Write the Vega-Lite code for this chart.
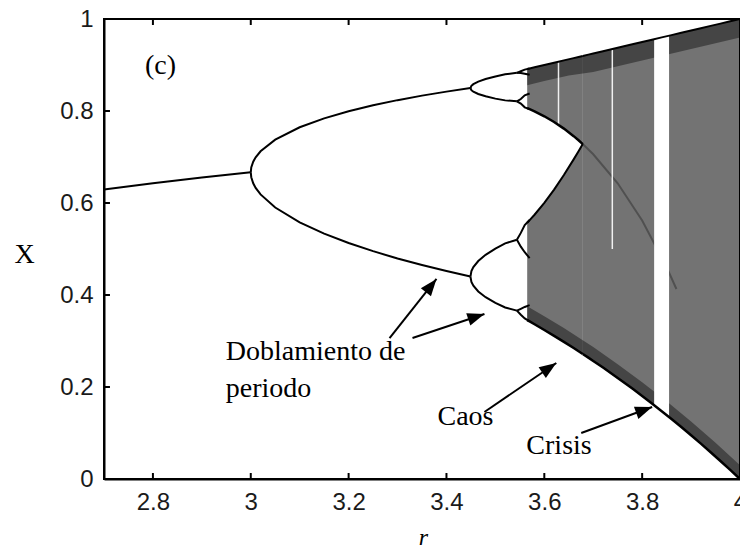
{
  "$schema": "https://vega.github.io/schema/vega-lite/v6.json",
  "width": 636,
  "height": 460,
  "autosize": {"type": "none"},
  "padding": {"left": 104, "top": 19, "right": 0, "bottom": 71},
  "background": "white",
  "config": {
    "view": {"stroke": "black", "strokeWidth": 2},
    "axis": {
      "domainColor": "black",
      "domainWidth": 2,
      "ticks": false,
      "grid": false,
      "labelFont": "Liberation Sans",
      "labelFontSize": 24,
      "labelColor": "#1a1a1a",
      "titleFont": "Liberation Serif",
      "titleFontWeight": "normal",
      "titleColor": "black"
    }
  },
  "resolve": {"axis": {"x": "independent", "y": "independent"}},
  "datasets": {
    "bands": [
      {"band": "up", "r": 3.565, "lo": 0.8062, "hi": 0.8913},
      {"band": "up", "r": 3.57, "lo": 0.8039, "hi": 0.8925},
      {"band": "up", "r": 3.58, "lo": 0.7992, "hi": 0.895},
      {"band": "up", "r": 3.6, "lo": 0.7885, "hi": 0.9},
      {"band": "up", "r": 3.62, "lo": 0.776, "hi": 0.905},
      {"band": "up", "r": 3.64, "lo": 0.7617, "hi": 0.91},
      {"band": "up", "r": 3.66, "lo": 0.7453, "hi": 0.915},
      {"band": "up", "r": 3.67, "lo": 0.7363, "hi": 0.9175},
      {"band": "up", "r": 3.6786, "lo": 0.7281, "hi": 0.9197},
      {"band": "low", "r": 3.565, "lo": 0.3455, "hi": 0.5571},
      {"band": "low", "r": 3.57, "lo": 0.3425, "hi": 0.5628},
      {"band": "low", "r": 3.58, "lo": 0.3364, "hi": 0.5745},
      {"band": "low", "r": 3.6, "lo": 0.324, "hi": 0.6004},
      {"band": "low", "r": 3.62, "lo": 0.3112, "hi": 0.6292},
      {"band": "low", "r": 3.64, "lo": 0.2981, "hi": 0.6608},
      {"band": "low", "r": 3.66, "lo": 0.2847, "hi": 0.6948},
      {"band": "low", "r": 3.67, "lo": 0.2778, "hi": 0.7126},
      {"band": "low", "r": 3.6786, "lo": 0.2718, "hi": 0.7282},
      {"band": "full", "r": 3.6786, "lo": 0.2718, "hi": 0.9197},
      {"band": "full", "r": 3.69, "lo": 0.2638, "hi": 0.9225},
      {"band": "full", "r": 3.7, "lo": 0.2567, "hi": 0.925},
      {"band": "full", "r": 3.72, "lo": 0.2422, "hi": 0.93},
      {"band": "full", "r": 3.75, "lo": 0.2197, "hi": 0.9375},
      {"band": "full", "r": 3.78, "lo": 0.1965, "hi": 0.945},
      {"band": "full", "r": 3.8, "lo": 0.1805, "hi": 0.95},
      {"band": "full", "r": 3.82, "lo": 0.1642, "hi": 0.955},
      {"band": "full", "r": 3.84, "lo": 0.1475, "hi": 0.96},
      {"band": "full", "r": 3.86, "lo": 0.1304, "hi": 0.965},
      {"band": "full", "r": 3.88, "lo": 0.1129, "hi": 0.97},
      {"band": "full", "r": 3.9, "lo": 0.0951, "hi": 0.975},
      {"band": "full", "r": 3.92, "lo": 0.0768, "hi": 0.98},
      {"band": "full", "r": 3.94, "lo": 0.0582, "hi": 0.985},
      {"band": "full", "r": 3.96, "lo": 0.0392, "hi": 0.99},
      {"band": "full", "r": 3.98, "lo": 0.0198, "hi": 0.995},
      {"band": "full", "r": 4.0, "lo": 0.0, "hi": 1.0}
    ],
    "dense": [
      {"edge": "top", "r": 3.565, "lo": 0.856, "hi": 0.8913},
      {"edge": "top", "r": 3.6, "lo": 0.865, "hi": 0.9},
      {"edge": "top", "r": 3.65, "lo": 0.877, "hi": 0.9125},
      {"edge": "top", "r": 3.7, "lo": 0.885, "hi": 0.925},
      {"edge": "top", "r": 3.75, "lo": 0.8975, "hi": 0.9375},
      {"edge": "top", "r": 3.8, "lo": 0.91, "hi": 0.95},
      {"edge": "top", "r": 3.85, "lo": 0.9225, "hi": 0.9625},
      {"edge": "top", "r": 3.9, "lo": 0.935, "hi": 0.975},
      {"edge": "top", "r": 3.95, "lo": 0.9475, "hi": 0.9875},
      {"edge": "top", "r": 4.0, "lo": 0.96, "hi": 1.0},
      {"edge": "bottom", "r": 3.565, "lo": 0.3455, "hi": 0.3755},
      {"edge": "bottom", "r": 3.6, "lo": 0.324, "hi": 0.354},
      {"edge": "bottom", "r": 3.64, "lo": 0.2981, "hi": 0.3281},
      {"edge": "bottom", "r": 3.6786, "lo": 0.2718, "hi": 0.3018},
      {"edge": "bottom", "r": 3.7, "lo": 0.2567, "hi": 0.2867},
      {"edge": "bottom", "r": 3.75, "lo": 0.2197, "hi": 0.2497},
      {"edge": "bottom", "r": 3.8, "lo": 0.1805, "hi": 0.2105},
      {"edge": "bottom", "r": 3.85, "lo": 0.139, "hi": 0.169},
      {"edge": "bottom", "r": 3.9, "lo": 0.0951, "hi": 0.1251},
      {"edge": "bottom", "r": 3.95, "lo": 0.0488, "hi": 0.0788},
      {"edge": "bottom", "r": 4.0, "lo": 0.0, "hi": 0.03}
    ],
    "inner": [
      {"r": 3.6786, "X": 0.7281},
      {"r": 3.7, "X": 0.706},
      {"r": 3.75, "X": 0.6429},
      {"r": 3.8, "X": 0.5621},
      {"r": 3.85, "X": 0.4607},
      {"r": 3.87, "X": 0.413}
    ],
    "windows": [
      {"r0": 3.8245, "r1": 3.855, "lo": 0.12, "hi": 0.97}
    ],
    "gaps": [
      {"r": 3.739, "lo": 0.5, "hi": 0.94},
      {"r": 3.629, "lo": 0.77, "hi": 0.906}
    ],
    "xticks": [
      {"t": 2.8}, {"t": 3.0}, {"t": 3.2}, {"t": 3.4}, {"t": 3.6}, {"t": 3.8}
    ],
    "yticks": [
      {"t": 0.2}, {"t": 0.4}, {"t": 0.6}, {"t": 0.8}
    ],
    "branches": [
      {"branch": "p1", "r": 2.7, "X": 0.6296},
      {"branch": "p1", "r": 2.8, "X": 0.6429},
      {"branch": "p1", "r": 2.9, "X": 0.6552},
      {"branch": "p1", "r": 3.0, "X": 0.6667},
      {"branch": "p2u", "r": 3.0, "X": 0.6667},
      {"branch": "p2u", "r": 3.001, "X": 0.6772},
      {"branch": "p2u", "r": 3.005, "X": 0.6899},
      {"branch": "p2u", "r": 3.01, "X": 0.6994},
      {"branch": "p2u", "r": 3.02, "X": 0.7125},
      {"branch": "p2u", "r": 3.05, "X": 0.7377},
      {"branch": "p2u", "r": 3.1, "X": 0.7646},
      {"branch": "p2u", "r": 3.15, "X": 0.784},
      {"branch": "p2u", "r": 3.2, "X": 0.7995},
      {"branch": "p2u", "r": 3.25, "X": 0.8124},
      {"branch": "p2u", "r": 3.3, "X": 0.8236},
      {"branch": "p2u", "r": 3.35, "X": 0.8334},
      {"branch": "p2u", "r": 3.4, "X": 0.8421},
      {"branch": "p2u", "r": 3.449, "X": 0.8499},
      {"branch": "p2l", "r": 3.0, "X": 0.6667},
      {"branch": "p2l", "r": 3.001, "X": 0.6561},
      {"branch": "p2l", "r": 3.005, "X": 0.6428},
      {"branch": "p2l", "r": 3.01, "X": 0.6328},
      {"branch": "p2l", "r": 3.02, "X": 0.6186},
      {"branch": "p2l", "r": 3.05, "X": 0.5902},
      {"branch": "p2l", "r": 3.1, "X": 0.558},
      {"branch": "p2l", "r": 3.15, "X": 0.5335},
      {"branch": "p2l", "r": 3.2, "X": 0.513},
      {"branch": "p2l", "r": 3.25, "X": 0.4953},
      {"branch": "p2l", "r": 3.3, "X": 0.4794},
      {"branch": "p2l", "r": 3.35, "X": 0.4651},
      {"branch": "p2l", "r": 3.4, "X": 0.452},
      {"branch": "p2l", "r": 3.449, "X": 0.4401},
      {"branch": "p4a", "r": 3.449, "X": 0.8499},
      {"branch": "p4a", "r": 3.451, "X": 0.8547},
      {"branch": "p4a", "r": 3.455, "X": 0.8584},
      {"branch": "p4a", "r": 3.465, "X": 0.8639},
      {"branch": "p4a", "r": 3.48, "X": 0.8695},
      {"branch": "p4a", "r": 3.5, "X": 0.875},
      {"branch": "p4a", "r": 3.52, "X": 0.8799},
      {"branch": "p4a", "r": 3.544, "X": 0.883},
      {"branch": "p4b", "r": 3.449, "X": 0.8499},
      {"branch": "p4b", "r": 3.451, "X": 0.8452},
      {"branch": "p4b", "r": 3.455, "X": 0.8419},
      {"branch": "p4b", "r": 3.465, "X": 0.8369},
      {"branch": "p4b", "r": 3.48, "X": 0.832},
      {"branch": "p4b", "r": 3.5, "X": 0.8269},
      {"branch": "p4b", "r": 3.52, "X": 0.8231},
      {"branch": "p4b", "r": 3.544, "X": 0.821},
      {"branch": "p4c", "r": 3.449, "X": 0.4401},
      {"branch": "p4c", "r": 3.451, "X": 0.4518},
      {"branch": "p4c", "r": 3.455, "X": 0.4607},
      {"branch": "p4c", "r": 3.465, "X": 0.4739},
      {"branch": "p4c", "r": 3.48, "X": 0.4873},
      {"branch": "p4c", "r": 3.5, "X": 0.5009},
      {"branch": "p4c", "r": 3.52, "X": 0.5122},
      {"branch": "p4c", "r": 3.544, "X": 0.52},
      {"branch": "p4d", "r": 3.449, "X": 0.4401},
      {"branch": "p4d", "r": 3.451, "X": 0.4284},
      {"branch": "p4d", "r": 3.455, "X": 0.4201},
      {"branch": "p4d", "r": 3.465, "X": 0.4077},
      {"branch": "p4d", "r": 3.48, "X": 0.3952},
      {"branch": "p4d", "r": 3.5, "X": 0.3828},
      {"branch": "p4d", "r": 3.52, "X": 0.3728},
      {"branch": "p4d", "r": 3.544, "X": 0.366},
      {"branch": "p8a1", "r": 3.544, "X": 0.883},
      {"branch": "p8a1", "r": 3.552, "X": 0.8865},
      {"branch": "p8a1", "r": 3.56, "X": 0.89},
      {"branch": "p8a1", "r": 3.57, "X": 0.8925},
      {"branch": "p8a2", "r": 3.544, "X": 0.883},
      {"branch": "p8a2", "r": 3.552, "X": 0.8825},
      {"branch": "p8a2", "r": 3.56, "X": 0.881},
      {"branch": "p8a2", "r": 3.57, "X": 0.879},
      {"branch": "p8b1", "r": 3.544, "X": 0.821},
      {"branch": "p8b1", "r": 3.552, "X": 0.816},
      {"branch": "p8b1", "r": 3.56, "X": 0.808},
      {"branch": "p8b1", "r": 3.57, "X": 0.804},
      {"branch": "p8b2", "r": 3.544, "X": 0.821},
      {"branch": "p8b2", "r": 3.552, "X": 0.826},
      {"branch": "p8b2", "r": 3.56, "X": 0.834},
      {"branch": "p8b2", "r": 3.57, "X": 0.838},
      {"branch": "p8c1", "r": 3.544, "X": 0.52},
      {"branch": "p8c1", "r": 3.552, "X": 0.535},
      {"branch": "p8c1", "r": 3.56, "X": 0.552},
      {"branch": "p8c1", "r": 3.57, "X": 0.563},
      {"branch": "p8c2", "r": 3.544, "X": 0.52},
      {"branch": "p8c2", "r": 3.552, "X": 0.505},
      {"branch": "p8c2", "r": 3.56, "X": 0.493},
      {"branch": "p8c2", "r": 3.57, "X": 0.48},
      {"branch": "p8d1", "r": 3.544, "X": 0.366},
      {"branch": "p8d1", "r": 3.552, "X": 0.357},
      {"branch": "p8d1", "r": 3.56, "X": 0.349},
      {"branch": "p8d1", "r": 3.57, "X": 0.3425},
      {"branch": "p8d2", "r": 3.544, "X": 0.366},
      {"branch": "p8d2", "r": 3.552, "X": 0.37},
      {"branch": "p8d2", "r": 3.56, "X": 0.374},
      {"branch": "p8d2", "r": 3.57, "X": 0.378}
    ],
    "arrows": [
      {"id": "a1", "r0": 3.2837, "x0": 0.3065, "r1": 3.3796, "x1": 0.4348},
      {"id": "a2", "r0": 3.3306, "x0": 0.3065, "r1": 3.4776, "x1": 0.3587},
      {"id": "a3", "r0": 3.4776, "x0": 0.1457, "r1": 3.6245, "x1": 0.2522},
      {"id": "a4", "r0": 3.6755, "x0": 0.1, "r1": 3.8204, "x1": 0.1565}
    ],
    "labels": [
      {"r": 2.7837, "X": 0.8804, "text": "(c)"},
      {"r": 2.949, "X": 0.2587, "text": "Doblamiento de"},
      {"r": 2.949, "X": 0.1783, "text": "periodo"},
      {"r": 3.3816, "X": 0.1174, "text": "Caos"},
      {"r": 3.5633, "X": 0.0543, "text": "Crisis"}
    ]
  },
  "layer": [
    {
      "data": {"name": "bands"},
      "mark": {"type": "area", "color": "black", "fillOpacity": 0.55, "strokeWidth": 0},
      "encoding": {
        "x": {
          "field": "r", "type": "quantitative",
          "scale": {"domain": [2.7, 4], "nice": false, "zero": false},
          "axis": {
            "orient": "bottom",
            "values": [2.8, 3, 3.2, 3.4, 3.6, 3.8, 4],
            "format": "~g",
            "labelPadding": 11,
            "labelFlush": false,
            "labelOverlap": false,
            "labelBound": false,
            "title": "r",
            "titleFontStyle": "italic",
            "titleFontSize": 24,
            "titleX": 319,
            "titleY": 58,
            "titleAlign": "center",
            "titleBaseline": "middle"
          }
        },
        "y": {
          "field": "lo", "type": "quantitative",
          "scale": {"domain": [0, 1], "nice": false},
          "axis": {
            "orient": "left",
            "values": [0, 0.2, 0.4, 0.6, 0.8, 1],
            "format": "~g",
            "labelPadding": 11,
            "title": "X",
            "titleAngle": 0,
            "titleFontSize": 28,
            "titleX": -80,
            "titleY": 235,
            "titleAlign": "center",
            "titleBaseline": "middle"
          }
        },
        "y2": {"field": "hi"},
        "detail": {"field": "band"}
      }
    },
    {
      "data": {"name": "dense"},
      "mark": {"type": "area", "color": "black", "fillOpacity": 0.4, "strokeWidth": 0},
      "encoding": {
        "x": {"field": "r", "type": "quantitative", "axis": null},
        "y": {"field": "lo", "type": "quantitative", "axis": null},
        "y2": {"field": "hi"},
        "detail": {"field": "edge"}
      }
    },
    {
      "data": {"name": "inner"},
      "mark": {"type": "line", "color": "black", "strokeWidth": 2, "opacity": 0.3},
      "encoding": {
        "x": {"field": "r", "type": "quantitative", "axis": null},
        "y": {"field": "X", "type": "quantitative", "axis": null}
      }
    },
    {
      "data": {"name": "windows"},
      "mark": {"type": "rect", "color": "white"},
      "encoding": {
        "x": {"field": "r0", "type": "quantitative", "axis": null},
        "x2": {"field": "r1"},
        "y": {"field": "lo", "type": "quantitative", "axis": null},
        "y2": {"field": "hi"}
      }
    },
    {
      "data": {"name": "gaps"},
      "mark": {"type": "rule", "color": "white", "strokeWidth": 1.5, "opacity": 0.9},
      "encoding": {
        "x": {"field": "r", "type": "quantitative", "axis": null},
        "y": {"field": "lo", "type": "quantitative", "axis": null},
        "y2": {"field": "hi"}
      }
    },
    {
      "data": {"name": "bands"},
      "mark": {"type": "line", "color": "black", "strokeWidth": 2.5},
      "encoding": {
        "x": {"field": "r", "type": "quantitative", "axis": null},
        "y": {"field": "lo", "type": "quantitative", "axis": null},
        "detail": {"field": "band"}
      }
    },
    {
      "data": {"name": "bands"},
      "mark": {"type": "line", "color": "black", "strokeWidth": 2},
      "encoding": {
        "x": {"field": "r", "type": "quantitative", "axis": null},
        "y": {"field": "hi", "type": "quantitative", "axis": null},
        "detail": {"field": "band"}
      }
    },
    {
      "data": {"name": "branches"},
      "mark": {"type": "line", "color": "black", "strokeWidth": 2},
      "encoding": {
        "x": {"field": "r", "type": "quantitative", "axis": null},
        "y": {"field": "X", "type": "quantitative", "axis": null},
        "detail": {"field": "branch"}
      }
    },
    {
      "data": {"name": "xticks"},
      "mark": {"type": "rule", "color": "black", "strokeWidth": 2},
      "encoding": {
        "x": {"field": "t", "type": "quantitative", "axis": null},
        "y": {"datum": 0, "type": "quantitative", "axis": null},
        "y2": {"datum": 0.013}
      }
    },
    {
      "data": {"name": "xticks"},
      "mark": {"type": "rule", "color": "black", "strokeWidth": 2},
      "encoding": {
        "x": {"field": "t", "type": "quantitative", "axis": null},
        "y": {"datum": 1, "type": "quantitative", "axis": null},
        "y2": {"datum": 0.987}
      }
    },
    {
      "data": {"name": "yticks"},
      "mark": {"type": "rule", "color": "black", "strokeWidth": 2},
      "encoding": {
        "y": {"field": "t", "type": "quantitative", "axis": null},
        "x": {"datum": 2.7, "type": "quantitative", "axis": null},
        "x2": {"datum": 2.7122}
      }
    },
    {
      "data": {"name": "arrows"},
      "mark": {"type": "rule", "color": "black", "strokeWidth": 2},
      "encoding": {
        "x": {"field": "r0", "type": "quantitative", "axis": null},
        "y": {"field": "x0", "type": "quantitative", "axis": null},
        "x2": {"field": "r1"},
        "y2": {"field": "x1"}
      }
    },
    {
      "data": {"name": "arrows"},
      "transform": [{"filter": "datum.id == 'a1'"}],
      "mark": {"type": "point", "shape": "M0,0L0.38,1L-0.38,1Z", "filled": true, "color": "black", "opacity": 1, "size": 1156, "angle": 38.5},
      "encoding": {
        "x": {"field": "r1", "type": "quantitative", "axis": null},
        "y": {"field": "x1", "type": "quantitative", "axis": null}
      }
    },
    {
      "data": {"name": "arrows"},
      "transform": [{"filter": "datum.id == 'a2'"}],
      "mark": {"type": "point", "shape": "M0,0L0.38,1L-0.38,1Z", "filled": true, "color": "black", "opacity": 1, "size": 1156, "angle": 71.6},
      "encoding": {
        "x": {"field": "r1", "type": "quantitative", "axis": null},
        "y": {"field": "x1", "type": "quantitative", "axis": null}
      }
    },
    {
      "data": {"name": "arrows"},
      "transform": [{"filter": "datum.id == 'a3'"}],
      "mark": {"type": "point", "shape": "M0,0L0.38,1L-0.38,1Z", "filled": true, "color": "black", "opacity": 1, "size": 1156, "angle": 55.8},
      "encoding": {
        "x": {"field": "r1", "type": "quantitative", "axis": null},
        "y": {"field": "x1", "type": "quantitative", "axis": null}
      }
    },
    {
      "data": {"name": "arrows"},
      "transform": [{"filter": "datum.id == 'a4'"}],
      "mark": {"type": "point", "shape": "M0,0L0.38,1L-0.38,1Z", "filled": true, "color": "black", "opacity": 1, "size": 1156, "angle": 69.9},
      "encoding": {
        "x": {"field": "r1", "type": "quantitative", "axis": null},
        "y": {"field": "x1", "type": "quantitative", "axis": null}
      }
    },
    {
      "data": {"name": "labels"},
      "mark": {"type": "text", "font": "Liberation Serif", "fontSize": 28, "align": "left", "baseline": "alphabetic", "color": "black"},
      "encoding": {
        "x": {"field": "r", "type": "quantitative", "axis": null},
        "y": {"field": "X", "type": "quantitative", "axis": null},
        "text": {"field": "text"}
      }
    }
  ]
}
